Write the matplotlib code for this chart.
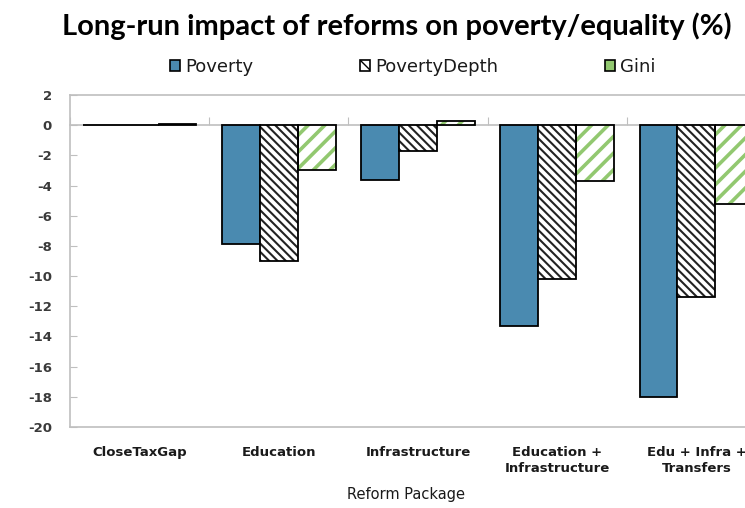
import matplotlib
matplotlib.use('Agg')
import matplotlib.pyplot as plt
from matplotlib.patches import Patch
import numpy as np

plt.rcParams['axes.unicode_minus'] = False

# Reform packages and results (% change)
packages = ['CloseTaxGap', 'Education', 'Infrastructure',
            'Education +\nInfrastructure', 'Edu + Infra +\nTransfers']
poverty = [0.0, -7.9, -3.6, -13.3, -18.0]
poverty_depth = [0.0, -9.0, -1.7, -10.2, -11.4]
gini = [0.1, -3.0, 0.25, -3.7, -5.2]
y_ticks = list(range(-20, 3, 2))

blue = '#4a8ab0'
green = '#92c870'
grey = '#bfbfbf'
text_col = '#3a3a3a'

fig = plt.figure(figsize=(7.45, 5.08), dpi=100)
ax = fig.add_axes([70 / 745, 1 - 427 / 508, 696 / 745, 332 / 508])

x = np.arange(len(packages))
w = 0.272

ax.bar(x - w, poverty, w, color=blue, edgecolor='black', linewidth=1.3, zorder=3)
with plt.rc_context({'hatch.linewidth': 1.5}):
    ax.bar(x, poverty_depth, w, color='white', edgecolor='#222222', hatch='\\\\\\\\',
           linewidth=0, zorder=3)
ax.bar(x, poverty_depth, w, color='none', edgecolor='black', linewidth=1.3, zorder=4)
with plt.rc_context({'hatch.linewidth': 2.6}):
    ax.bar(x + w, gini, w, color='white', edgecolor=green, hatch='//',
           linewidth=0, zorder=3)
ax.bar(x + w, gini, w, color='none', edgecolor='black', linewidth=1.3, zorder=4)

ax.set_xlim(-0.5, len(packages) - 0.5)
ax.set_ylim(-20, 2)
ax.set_yticks(y_ticks)
ax.tick_params(axis='y', direction='in', length=5, color=grey, pad=13,
               labelsize=9.5, labelcolor=text_col)
for lbl in ax.get_yticklabels():
    lbl.set_fontweight('bold')

ax.set_xticks(x)
ax.set_xticklabels(packages, fontsize=9.5, fontweight='bold', color='#1a1a1a',
                   linespacing=1.3)
ax.tick_params(axis='x', length=0, pad=14)
for s in ax.spines.values():
    s.set_color(grey)
    s.set_linewidth(1.2)

# zero line with category separator ticks
zero_axis = ax.secondary_xaxis(20 / 22)
zero_axis.set_xticks(np.arange(len(packages) + 1) - 0.5)
zero_axis.tick_params(length=6, color=grey, labeltop=False, labelbottom=False,
                      direction='out')
for s in zero_axis.spines.values():
    s.set_color(grey)
    s.set_linewidth(1.2)

ax.set_xlabel('Reform Package', fontsize=10.5, color='#1a1a1a')
ax.xaxis.set_label_coords(0.483, -0.18)

handles = [Patch(facecolor=blue, edgecolor='black', linewidth=1.2),
           Patch(facecolor='white', edgecolor='black', hatch='\\\\\\', linewidth=1.2),
           Patch(facecolor=green, edgecolor='black', linewidth=1.2)]
fig.legend(handles, ['Poverty', 'PovertyDepth', 'Gini'], ncol=3,
           loc='center', bbox_to_anchor=(413 / 745, 1 - 67 / 508), frameon=False,
           handlelength=0.55, handleheight=0.55, handletextpad=0.3,
           columnspacing=5.9, fontsize=13, labelcolor='#1a1a1a')

fig.suptitle('Long-run impact of reforms on poverty/equality (%)',
             x=397 / 745, y=1 - 26 / 508, va='center', fontsize=21,
             fontweight='bold', family='Lato')

fig.savefig('out.png', dpi=100)
